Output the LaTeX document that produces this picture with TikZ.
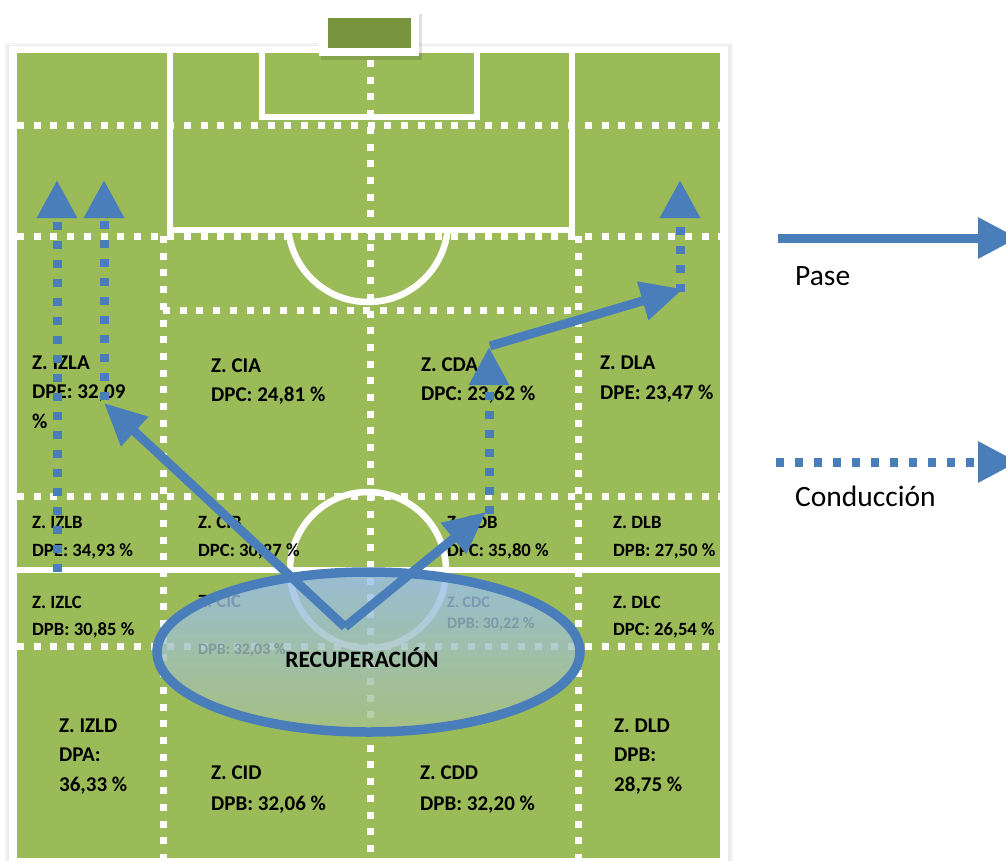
\documentclass[tikz,border=0pt]{standalone}
\usepackage{fontspec}
\setmainfont{Carlito}
\usetikzlibrary{arrows.meta}
\definecolor{pitch}{HTML}{9BBB59}
\definecolor{goalgreen}{HTML}{77933C}
\definecolor{arrowblue}{HTML}{4A7EBB}
\definecolor{ellblue}{HTML}{98BEF2}
\definecolor{ellgreen}{HTML}{A9C28A}
\tikzset{
  wline/.style={draw=white, line width=6.5pt},
  wdot/.style={draw=white, line width=7pt, dash pattern=on 7pt off 9.7pt},
  pass/.style={draw=arrowblue, line width=9pt, -{Triangle[length=42pt,width=38pt]}},
  cond/.style={draw=arrowblue, line width=9pt, dash pattern=on 8pt off 11pt, -{Triangle[length=38pt,width=38pt]}},
  big/.style={anchor=base west, inner sep=0pt, font=\fontsize{21}{25}\selectfont\bfseries},
  mid/.style={anchor=base west, inner sep=0pt, font=\fontsize{18.7}{22}\selectfont\bfseries},
  small/.style={anchor=base west, inner sep=0pt, font=\fontsize{16}{19}\selectfont\bfseries},
  legend/.style={anchor=base west, inner sep=0pt, font=\fontsize{29.5}{34}\selectfont},
}
\begin{document}
\begin{tikzpicture}[x=1pt,y=-1pt]
\clip (0,0) rectangle (1006,860);
\fill[white] (0,0) rectangle (1006,860);

% frame of the pitch with a soft shadow
\fill[black, opacity=0.04] (5,43) rectangle (733,870);
\fill[black, opacity=0.04] (7,45) rectangle (731,870);
\fill[white] (9,46) rectangle (728,870);
\fill[pitch] (17,53) rectangle (720,858);

% goal
\fill[black, opacity=0.12] (321,14) rectangle (422,60);
\fill[white] (319,11) rectangle (419,56);
\fill[goalgreen] (328,18) rectangle (411,48);

% penalty areas
\draw[wline] (170,53) -- (170,230) -- (572,230) -- (572,53);
\draw[wline] (262,53) -- (262,117) -- (477,117) -- (477,53);
\begin{scope}
  \clip (0,233) rectangle (1006,400);
  \draw[wline] (368,222) circle[radius=80];
\end{scope}

% zone grid
\draw[wdot] (17,125) -- (720,125);
\draw[wdot] (17,236) -- (720,236);
\draw[wdot] (163,310) -- (578,310);
\draw[wdot] (17,496) -- (720,496);
\draw[wdot] (17,646) -- (720,646);
\draw[wdot] (370,60) -- (370,858);
\draw[wdot] (163,236) -- (163,858);
\draw[wdot] (578,236) -- (578,858);

% halfway line and centre circle
\draw[wline] (12,570) -- (724,570);
\draw[wline] (368,570) circle[radius=78];

% zone labels
\node[big] (izlaT) at (32,369) {Z. IZLA};
\node[big] (izlaV) at (32,398) {DPE: 32,09};
\node[big] (izlaP) at (32,428) {\%};
\node[big] (ciaT) at (211,372) {Z. CIA};
\node[big] (ciaV) at (211,401) {DPC: 24,81 \%};
\node[big] (cdaT) at (421,371) {Z. CDA};
\node[big] (cdaV) at (421,400) {DPC: 23,62 \%};
\node[big] (dlaT) at (600,369) {Z. DLA};
\node[big] (dlaV) at (600,399) {DPE: 23,47 \%};

\node[mid] (izlbT) at (32,528) {Z. IZLB};
\node[mid] (izlbV) at (32,556) {DPE: 34,93 \%};
\node[mid] (cibT) at (198,528) {Z. CIB};
\node[mid] (cibV) at (198,556) {DPC: 30,27 \%};
\node[mid] (cdbT) at (447,528) {Z. CDB};
\node[mid] (cdbV) at (447,556) {DPC: 35,80 \%};
\node[mid] (dlbT) at (613,528) {Z. DLB};
\node[mid] (dlbV) at (613,556) {DPB: 27,50 \%};

\node[mid] (izlcT) at (32,608) {Z. IZLC};
\node[mid] (izlcV) at (32,635) {DPB: 30,85 \%};
\node[mid] (cicT) at (198,607) {Z. CIC};
\node[small] (cicV) at (198,654) {DPB: 32,03 \%};
\node[small] (cdcT) at (447,607) {Z. CDC};
\node[small] (cdcV) at (447,628) {DPB: 30,22 \%};
\node[mid] (dlcT) at (613,608) {Z. DLC};
\node[mid] (dlcV) at (613,635) {DPC: 26,54 \%};

\node[big] (izldT) at (59,732) {Z. IZLD};
\node[big] (izldV) at (59,761) {DPA:};
\node[big] (izldP) at (59,791) {36,33 \%};
\node[big] (cidT) at (211,779) {Z. CID};
\node[big] (cidV) at (211,810) {DPB: 32,06 \%};
\node[big] (cddT) at (420,779) {Z. CDD};
\node[big] (cddV) at (420,810) {DPB: 32,20 \%};
\node[big] (dldT) at (614,732) {Z. DLD};
\node[big] (dldV) at (614,761) {DPB:};
\node[big] (dldP) at (614,791) {28,75 \%};

% recovery zone
\draw[arrowblue, line width=9.5pt, top color=ellblue, bottom color=ellgreen, fill opacity=0.8]
  (368.5,652) ellipse[x radius=211.5, y radius=80];
\node[anchor=base, inner sep=0pt, font=\fontsize{23.5}{28}\selectfont\bfseries] (rec) at (362,667) {RECUPERACIÓN};

% key points of the play
\coordinate (v) at (345,627);
\coordinate (izlaTip) at (104,403);
\coordinate (cdbTip) at (486,512);
\coordinate (cdaStart) at (490,346);
\coordinate (dlaTip) at (683,289);
\coordinate (c1s) at (57,572);
\coordinate (c1e) at (57,180);
\coordinate (c2s) at (104,400);
\coordinate (c2e) at (104,180);
\coordinate (c3s) at (489,514);
\coordinate (c3e) at (489,347);
\coordinate (c4s) at (680,292);
\coordinate (c4e) at (680,180);

% conduction
\draw[cond] (c1s) -- (c1e);
\draw[cond] (c2s) -- (c2e);
\draw[cond] (c3s) -- (c3e);
\draw[cond] (c4s) -- (c4e);

% passes
\draw[pass] (v) -- (izlaTip);
\draw[pass] (v) -- (cdbTip);
\draw[pass] (cdaStart) -- (dlaTip);

% legend
\coordinate (lp1) at (778,238);
\coordinate (lp2) at (1018,238);
\coordinate (lc1) at (776,462);
\coordinate (lc2) at (1018,462);
\draw[pass, -{Triangle[length=40pt,width=39pt]}] (lp1) -- (lp2);
\draw[cond, -{Triangle[length=40pt,width=39pt]}] (lc1) -- (lc2);
\node[legend] (pase) at (795,285) {Pase};
\node[legend] (cond) at (795,506) {Conducción};
\end{tikzpicture}
\end{document}
